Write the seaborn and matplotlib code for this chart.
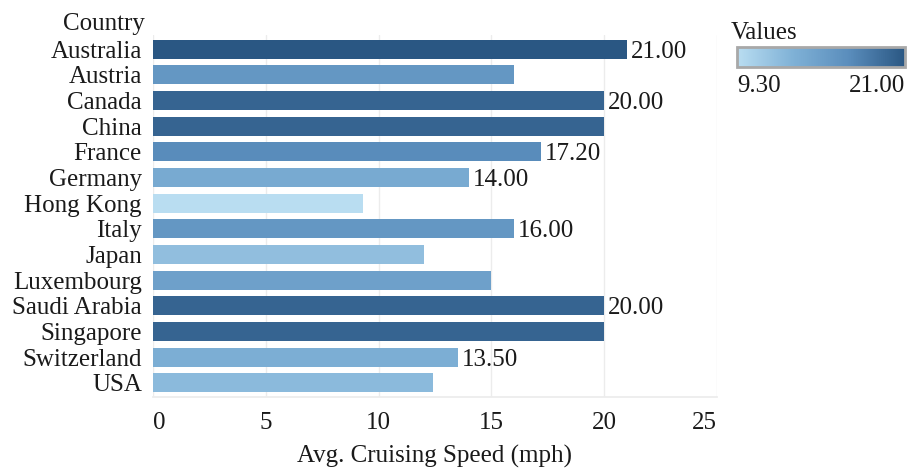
import numpy as np
import pandas as pd
import matplotlib
matplotlib.use("Agg")
import matplotlib.pyplot as plt
import seaborn as sns
from matplotlib.colors import LinearSegmentedColormap, Normalize
from matplotlib.cm import ScalarMappable

# ── data ────────────────────────────────────────────────────
countries = ["Australia", "Austria", "Canada", "China", "France", "Germany",
             "Hong Kong", "Italy", "Japan", "Luxembourg", "Saudi Arabia",
             "Singapore", "Switzerland", "USA"]
speeds = [21.0, 16.0, 20.0, 20.0, 17.2, 14.0, 9.3, 16.0, 12.0, 15.0,
          20.0, 20.0, 13.5, 12.4]
# which bars carry a value label in the original
show_label = [True, False, True, False, True, True, False, True, False,
              False, True, False, True, False]
x_ticks = [0, 5, 10, 15, 20, 25]

df = pd.DataFrame({"Country": countries, "Speed": speeds})

# ── style ───────────────────────────────────────────────────
sns.set_theme(style="white")
plt.rcParams["font.family"] = ["Liberation Serif", "DejaVu Serif"]
fs = 18
txt = "#1a1a1a"

cmap = LinearSegmentedColormap.from_list(
    "tab_blue", ["#b9ddf1", "#7fb1d6", "#5a8dbc", "#2a5783"])
vmin, vmax = min(speeds), max(speeds)
norm = Normalize(vmin=vmin, vmax=vmax)
palette = {c: cmap(norm(v)) for c, v in zip(countries, speeds)}

fig = plt.figure(figsize=(9.07, 4.73), dpi=100)
ax = fig.add_axes([0.1687, 0.1607, 0.6218, 0.7653])

sns.barplot(data=df, x="Speed", y="Country", hue="Country", palette=palette,
            legend=False, width=0.74, saturation=1, linewidth=0, ax=ax,
            orient="h")

for i, (v, show) in enumerate(zip(speeds, show_label)):
    if show:
        ax.text(v + 0.17, i, f"{v:.2f}", va="center_baseline", ha="left",
                fontsize=fs, color=txt)

ax.set_xlim(0, 25)
ax.set_ylim(13.55, -0.55)
ax.set_xticks(x_ticks)
ax.set_xticklabels([str(t) for t in x_ticks], fontsize=fs, color=txt)
xl = ax.get_xticklabels()
xl[0].set_ha("left")
xl[-1].set_ha("right")
ax.tick_params(axis="x", length=0, pad=11)
ax.tick_params(axis="y", length=0, pad=8, labelsize=fs, labelcolor=txt)
ax.set_xlabel("Avg. Cruising Speed (mph)", fontsize=fs, color=txt)
ax.xaxis.set_label_coords(0.5, -0.165)
ax.xaxis.label.set_va("center")
ax.set_ylabel("")
ax.text(-0.014, 1.0, "Country", transform=ax.transAxes, ha="right",
        va="bottom", fontsize=fs, color=txt)

ax.grid(axis="x", color="#ececec", linewidth=1)
ax.set_axisbelow(True)
for s in ["top", "right", "left"]:
    ax.spines[s].set_visible(False)
ax.spines["bottom"].set_color("#ececec")

# ── colour legend ───────────────────────────────────────────
cax = fig.add_axes([0.8126, 0.8584, 0.1852, 0.0423])
cb = fig.colorbar(ScalarMappable(norm=norm, cmap=cmap), cax=cax,
                  orientation="horizontal")
cb.outline.set_edgecolor("#a8a8a8")
cb.outline.set_linewidth(2)
cb.set_ticks([vmin, vmax])
cb.set_ticklabels([f"{vmin:.2f}", f"{vmax:.2f}"])
cax.tick_params(length=0, pad=6, labelsize=fs, labelcolor=txt)
labels = cax.get_xticklabels()
labels[0].set_ha("left")
labels[1].set_ha("right")
fig.text(0.806, 0.907, "Values", ha="left", va="bottom", fontsize=fs,
         color=txt)

fig.savefig("out.png", dpi=100)
